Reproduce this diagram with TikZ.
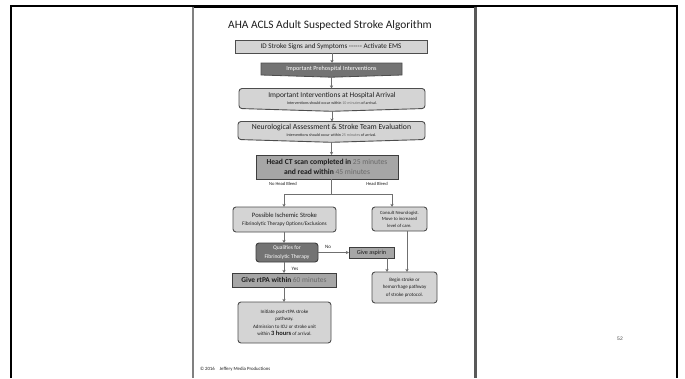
\documentclass[tikz,border=0pt]{standalone}
\usepackage{fontspec}
\setmainfont{Carlito}
\newfontfamily\arialfont{Liberation Sans}
\usetikzlibrary{arrows.meta,backgrounds}
\definecolor{lightbox}{HTML}{D4D4D4}
\definecolor{midbox}{HTML}{A6A6A6}
\definecolor{darkbox}{HTML}{737373}
\definecolor{edgec}{HTML}{4D4D4D}
\definecolor{txt}{HTML}{1E1E1E}
\definecolor{hl}{HTML}{6A6A6A}
\definecolor{linec}{HTML}{707070}
\newcommand{\fs}[1]{\fontsize{#1}{#1}\selectfont}
\begin{document}
\begin{tikzpicture}[x=1pt,y=-1pt,
  every node/.style={inner sep=0pt, outer sep=0pt, text=txt, align=center},
  plainbox/.style={draw=edgec, line width=0.8pt, fill=lightbox},
  midrect/.style={draw=edgec!80!black, line width=1pt, fill=midbox},
  roundbox/.style={draw=edgec, line width=0.9pt, fill=lightbox, rounded corners=3pt},
  darkround/.style={draw=edgec!80!black, line width=0.9pt, fill=darkbox, rounded corners=3pt, text=white},
  textonly/.style={},
  conn/.style={draw=linec, line width=0.8pt, -{Stealth[length=3.2pt,width=3.2pt]}},
  plainline/.style={draw=linec, line width=0.8pt},
  lbl/.style={font=\fs{4.6}, text=txt}
]
\useasboundingbox (0,0) rectangle (685,378);
\begin{scope}[on background layer]
\fill[white] (0,0) rectangle (685,378);
\end{scope}
% slide frame
\draw[black, line width=1.5pt] (11,378) -- (11,6) -- (193,6);
\draw[black, line width=1.5pt] (477,6) -- (677,6) -- (677,378);
\draw[black, line width=3pt] (193,6) -- (477,6);
\draw[gray, line width=1.3pt] (193,6.5) -- (193,378);
\draw[black!65, line width=3pt] (475.5,7) -- (475.5,378);

% title
\node[font=\fs{11.4}, text=black!88] (title) at (330,26) {AHA ACLS Adult Suspected Stroke Algorithm};

% boxes
\node[plainbox, minimum width=192pt, minimum height=13pt, font=\fs{7.1}] (b1) at (331,46.5) {ID Stroke Signs and Symptoms -{}-{}-{}-{}-{}- Activate EMS};
\node[textonly, minimum width=141pt, minimum height=12pt, font=\fs{6.2}, text=white] (b2) at (331.5,69) {Important Prehospital Interventions};
\node[textonly, minimum width=186pt, minimum height=20pt, font=\fs{4}] (b3) at (332,98.5)
  {{\fs{7.4}Important Interventions at Hospital Arrival}\\[2.5pt]{\fs{4}Interventions should occur within {\color{hl}10 minutes} of arrival.}};
\node[textonly, minimum width=187pt, minimum height=18pt, font=\fs{4}] (b4) at (331.5,130.5)
  {{\fs{7.7}Neurological Assessment \& Stroke Team Evaluation}\\[2.5pt]{\fs{4}Interventions should occur within {\color{hl}25 minutes} of arrival.}};
\node[midrect, minimum width=142pt, minimum height=24pt, font=\fs{7.6}\bfseries] (b5) at (327,167)
  {Head CT scan completed in {\mdseries\color{hl}25 minutes}\\[2pt]and read within {\mdseries\color{hl}45 minutes}};

\begin{scope}[on background layer]
\draw[draw=edgec, fill=darkbox, line width=0.8pt] (b2.north west) -- (b2.north east) -- (b2.south east) -- ([yshift=-2.2pt]b2.south) -- (b2.south west) -- cycle;
\draw[draw=edgec, fill=lightbox, line width=0.9pt, rounded corners=3pt] (b3.north west) -- (b3.north east) -- (b3.south east) -- ([yshift=-2.8pt]b3.south) -- (b3.south west) -- cycle;
\draw[draw=edgec, fill=lightbox, line width=0.9pt, rounded corners=3pt] (b4.north west) -- (b4.north east) -- (b4.south east) -- ([yshift=-2.8pt]b4.south) -- (b4.south west) -- cycle;
\end{scope}

\node[roundbox, minimum width=103pt, minimum height=25pt, font=\fs{5}] (isch) at (284.5,219.5)
  {{\fs{6.6}Possible Ischemic Stroke}\\[3.5pt]{\fs{5.3}Fibrinolytic Therapy Options/Exclusions}};
\node[roundbox, minimum width=55pt, minimum height=24pt, font=\fs{4.7}] (cons) at (399.5,219)
  {Consult Neurologist.\\[1.8pt]Move to increased\\[1.8pt]level of care.};
\node[darkround, minimum width=62pt, minimum height=19pt, font=\fs{5.6}] (qual) at (287,252.5)
  {Qualifies for\\[3pt]Fibrinolytic Therapy};
\node[midrect, minimum width=45pt, minimum height=11pt, font=\fs{6.2}] (asp) at (371.5,252.5) {Give aspirin};
\node[midrect, minimum width=104pt, minimum height=14pt, font=\fs{7.4}\bfseries] (rtpa) at (284,280)
  {Give rtPA within {\mdseries\color{hl}60 minutes}};
\node[roundbox, minimum width=65pt, minimum height=31pt, font=\fs{5}] (begin) at (404.5,287.5)
  {Begin stroke or\\[2.5pt]hemorrhage pathway\\[2.5pt]of stroke protocol.};
\node[roundbox, minimum width=93pt, minimum height=41pt, font=\fs{5}] (init) at (284.5,322.5)
  {Initiate post-rtPA stroke\\[2.5pt]pathway.\\[2.5pt]Admission to ICU or stroke unit\\[2pt]within {\fs{6.5}\bfseries 3 hours} of arrival.};

% labels
\node[lbl] (nhb) at (283,184) {No Head Bleed};
\node[lbl] (hb) at (377,184) {Head Bleed};
\node[lbl, font=\fs{5}] (no) at (328,246.5) {No};
\node[lbl, font=\fs{5}] (yes) at (295,268.5) {Yes};
\node[anchor=west, font=\fs{4.8}, text=txt] (foot) at (200,369) {\copyright\ 2016\quad Jeffery Media Productions};
\node[font=\arialfont\fs{5}, text=black!70] (pnum) at (620,339) {52};

% connectors
\coordinate (split) at (331,194);
\coordinate (bl) at (284,194);
\coordinate (br) at (392,194);
\draw[conn] (b1.south -| 332,0) -- (b2.north -| 332,0);
\draw[conn] ([yshift=-2.2pt]b2.south) -- (b3.north -| b2.south);
\draw[conn] ([yshift=-2.8pt]b3.south) -- (b4.north -| b3.south);
\draw[conn] ([yshift=-2.8pt]b4.south) -- (b5.north -| b4.south);
\draw[plainline] (b5.south -| split) -- (split);
\draw[plainline] (bl) -- (br);
\draw[conn] (bl) -- (bl |- isch.north);
\draw[conn] (br) -- (br |- cons.north);
\draw[conn] (isch.south -| bl) -- (qual.north -| bl);
\draw[conn] (qual.east) -- (asp.west);
\draw[conn] (qual.south -| bl) -- (rtpa.north -| bl);
\draw[conn] (rtpa.south -| bl) -- (init.north -| bl);
\coordinate (aspx) at (387,0);
\coordinate (consx) at (407,0);
\draw[conn] (asp.south -| aspx) -- (begin.north -| aspx);
\draw[conn] (cons.south -| consx) -- (begin.north -| consx);
\end{tikzpicture}
\end{document}
